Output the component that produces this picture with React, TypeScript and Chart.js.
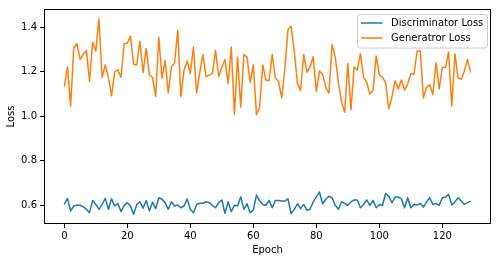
import React, { useEffect, useRef } from "react";
import { Chart, registerables } from "chart.js";

Chart.register(...registerables);

const seriesLabels = ["Discriminator Loss", "Generatror Loss"];
const seriesColors = ["#1f77b4", "#ff7f0e"];
const xTickValues = [0, 20, 40, 60, 80, 100, 120];
const yTickValues = [0.6, 0.8, 1.0, 1.2, 1.4];
const xTitle = "Epoch";
const yTitle = "Loss";

const discriminatorLoss = [
  0.604, 0.631, 0.575, 0.597, 0.600, 0.600, 0.594, 0.582, 0.567, 0.622,
  0.604, 0.582, 0.604, 0.631, 0.582, 0.629, 0.597, 0.608, 0.572, 0.600,
  0.612, 0.597, 0.560, 0.604, 0.616, 0.587, 0.622, 0.575, 0.614, 0.585,
  0.634, 0.627, 0.612, 0.582, 0.616, 0.597, 0.601, 0.589, 0.597, 0.629,
  0.582, 0.567, 0.604, 0.609, 0.609, 0.616, 0.612, 0.600, 0.589, 0.612,
  0.624, 0.564, 0.616, 0.572, 0.600, 0.597, 0.638, 0.582, 0.607, 0.567,
  0.578, 0.646, 0.620, 0.604, 0.600, 0.622, 0.589, 0.622, 0.622, 0.619,
  0.619, 0.629, 0.563, 0.582, 0.607, 0.585, 0.604, 0.578, 0.582, 0.615,
  0.637, 0.660, 0.607, 0.627, 0.641, 0.634, 0.600, 0.582, 0.616, 0.609,
  0.600, 0.615, 0.624, 0.624, 0.589, 0.604, 0.624, 0.600, 0.622, 0.589,
  0.604, 0.600, 0.653, 0.641, 0.612, 0.637, 0.637, 0.629, 0.589, 0.634,
  0.589, 0.604, 0.601, 0.609, 0.592, 0.615, 0.634, 0.604, 0.609, 0.600,
  0.634, 0.637, 0.649, 0.601, 0.616, 0.634, 0.619, 0.604, 0.612, 0.619,
];

const generatorLoss = [
  1.132, 1.221, 1.044, 1.307, 1.325, 1.255, 1.277, 1.295, 1.156, 1.332,
  1.292, 1.437, 1.174, 1.230, 1.174, 1.092, 1.199, 1.208, 1.174, 1.326,
  1.326, 1.359, 1.233, 1.230, 1.336, 1.196, 1.304, 1.186, 1.174, 1.088,
  1.354, 1.171, 1.250, 1.104, 1.221, 1.239, 1.385, 1.088, 1.206, 1.248,
  1.191, 1.310, 1.104, 1.196, 1.277, 1.177, 1.184, 1.191, 1.295, 1.178,
  1.218, 1.254, 1.147, 1.310, 1.008, 1.265, 1.040, 1.277, 1.265, 1.151,
  1.230, 1.006, 1.040, 1.230, 1.162, 1.159, 1.277, 1.171, 1.156, 1.082,
  1.211, 1.388, 1.403, 1.292, 1.147, 1.115, 1.277, 1.196, 1.221, 1.267,
  1.111, 1.203, 1.188, 1.129, 1.103, 1.322, 1.265, 1.151, 1.063, 1.018,
  1.236, 1.029, 1.221, 1.206, 1.280, 1.174, 1.151, 1.100, 1.115, 1.270,
  1.185, 1.174, 1.151, 1.033, 1.085, 1.159, 1.122, 1.162, 1.117, 1.144,
  1.191, 1.188, 1.292, 1.292, 1.082, 1.129, 1.141, 1.097, 1.240, 1.122,
  1.218, 1.218, 1.288, 1.045, 1.280, 1.171, 1.166, 1.203, 1.255, 1.196,
];

const FONT = "'DejaVu Sans', sans-serif";

const framePlugin = {
  id: "mplFrame",
  afterDatasetsDraw(chart: any) {
    const { ctx, chartArea } = chart;
    const l = Math.round(chartArea.left) + 0.5;
    const t = Math.round(chartArea.top) + 0.5;
    const r = Math.round(chartArea.right) - 0.5;
    const b = Math.round(chartArea.bottom) - 0.5;
    ctx.save();
    ctx.strokeStyle = "#000";
    ctx.lineWidth = 1;
    ctx.strokeRect(l, t, r - l, b - t);
    ctx.restore();
  },
};

const legendPlugin = {
  id: "mplLegend",
  afterDraw(chart: any) {
    const { ctx, chartArea } = chart;
    const boxW = 130;
    const boxH = 33.5;
    const x0 = Math.round(chartArea.right - 4.5 - boxW) + 0.5;
    const y0 = Math.round(chartArea.top + 5) + 0.5;
    const rad = 2.5;
    ctx.save();
    ctx.beginPath();
    ctx.moveTo(x0 + rad, y0);
    ctx.lineTo(x0 + boxW - rad, y0);
    ctx.quadraticCurveTo(x0 + boxW, y0, x0 + boxW, y0 + rad);
    ctx.lineTo(x0 + boxW, y0 + boxH - rad);
    ctx.quadraticCurveTo(x0 + boxW, y0 + boxH, x0 + boxW - rad, y0 + boxH);
    ctx.lineTo(x0 + rad, y0 + boxH);
    ctx.quadraticCurveTo(x0, y0 + boxH, x0, y0 + boxH - rad);
    ctx.lineTo(x0, y0 + rad);
    ctx.quadraticCurveTo(x0, y0, x0 + rad, y0);
    ctx.closePath();
    ctx.fillStyle = "rgba(255,255,255,0.8)";
    ctx.fill();
    ctx.strokeStyle = "#cccccc";
    ctx.lineWidth = 1;
    ctx.stroke();
    chart.data.datasets.forEach((ds: any, i: number) => {
      const yy = y0 + 8.5 + i * 15;
      ctx.beginPath();
      ctx.moveTo(x0 + 3.5, yy);
      ctx.lineTo(x0 + 25, yy);
      ctx.strokeStyle = ds.borderColor;
      ctx.lineWidth = 1.5;
      ctx.stroke();
      ctx.fillStyle = "#000";
      ctx.font = `10px ${FONT}`;
      ctx.textBaseline = "middle";
      ctx.textAlign = "left";
      ctx.fillText(ds.label, x0 + 33.5, yy + 0.5);
    });
    ctx.restore();
  },
};

function paddedRange(values: number[]) {
  const mn = Math.min(...values);
  const mx = Math.max(...values);
  const m = (mx - mn) * 0.05;
  return [mn - m, mx + m];
}

export default function App() {
  const canvasRef = useRef<HTMLCanvasElement | null>(null);

  useEffect(() => {
    if (!canvasRef.current) return;
    const all = [...discriminatorLoss, ...generatorLoss];
    const [yMin, yMax] = paddedRange(all);
    const n = generatorLoss.length;
    const [xMin, xMax] = paddedRange([0, n - 1]);

    const tickGrid = {
      display: true,
      drawOnChartArea: false,
      drawTicks: true,
      tickLength: 4,
      tickColor: "#000",
      tickWidth: 1,
      color: "#000",
    };

    const chart = new Chart(canvasRef.current, {
      type: "line",
      data: {
        datasets: [
          {
            label: seriesLabels[0],
            data: discriminatorLoss.map((v, i) => ({ x: i, y: v })),
            borderColor: seriesColors[0],
            backgroundColor: seriesColors[0],
            borderWidth: 1.5,
            pointRadius: 0,
            tension: 0,
            borderJoinStyle: "round",
          },
          {
            label: seriesLabels[1],
            data: generatorLoss.map((v, i) => ({ x: i, y: v })),
            borderColor: seriesColors[1],
            backgroundColor: seriesColors[1],
            borderWidth: 1.5,
            pointRadius: 0,
            tension: 0,
            borderJoinStyle: "round",
          },
        ],
      },
      options: {
        animation: false,
        responsive: true,
        maintainAspectRatio: false,
        devicePixelRatio: 1,
        layout: { padding: { top: 6, right: 6, left: 0, bottom: 0 } },
        plugins: {
          legend: { display: false },
          tooltip: { enabled: false },
        },
        scales: {
          x: {
            type: "linear",
            min: xMin,
            max: xMax,
            afterBuildTicks: (scale: any) => {
              scale.ticks = xTickValues.map((v) => ({ value: v }));
            },
            afterFit: (scale: any) => {
              scale.height = 38;
            },
            grid: tickGrid,
            border: { display: false },
            ticks: {
              font: { family: FONT, size: 10 },
              color: "#000",
              padding: 2,
              maxRotation: 0,
              autoSkip: false,
              callback: (v: any) => String(v),
            },
            title: {
              display: true,
              text: xTitle,
              font: { family: FONT, size: 10, lineHeight: 1.2 },
              color: "#000",
              padding: { top: 0, bottom: 6 },
            },
          },
          y: {
            type: "linear",
            min: yMin,
            max: yMax,
            afterBuildTicks: (scale: any) => {
              scale.ticks = yTickValues.map((v) => ({ value: v }));
            },
            afterFit: (scale: any) => {
              scale.width = 44;
            },
            grid: tickGrid,
            border: { display: false },
            ticks: {
              font: { family: FONT, size: 10 },
              color: "#000",
              padding: 3,
              autoSkip: false,
              callback: (v: any) => Number(v).toFixed(1),
            },
            title: {
              display: true,
              text: yTitle,
              font: { family: FONT, size: 10, lineHeight: 1.2 },
              color: "#000",
              padding: { top: 5, bottom: 0 },
            },
          },
        },
      } as any,
      plugins: [framePlugin, legendPlugin],
    });
    return () => chart.destroy();
  }, []);

  return (
    <div
      style={{
        position: "absolute",
        left: 0,
        top: 0,
        width: 497,
        height: 262,
        background: "#fff",
      }}
    >
      <canvas ref={canvasRef} />
    </div>
  );
}
